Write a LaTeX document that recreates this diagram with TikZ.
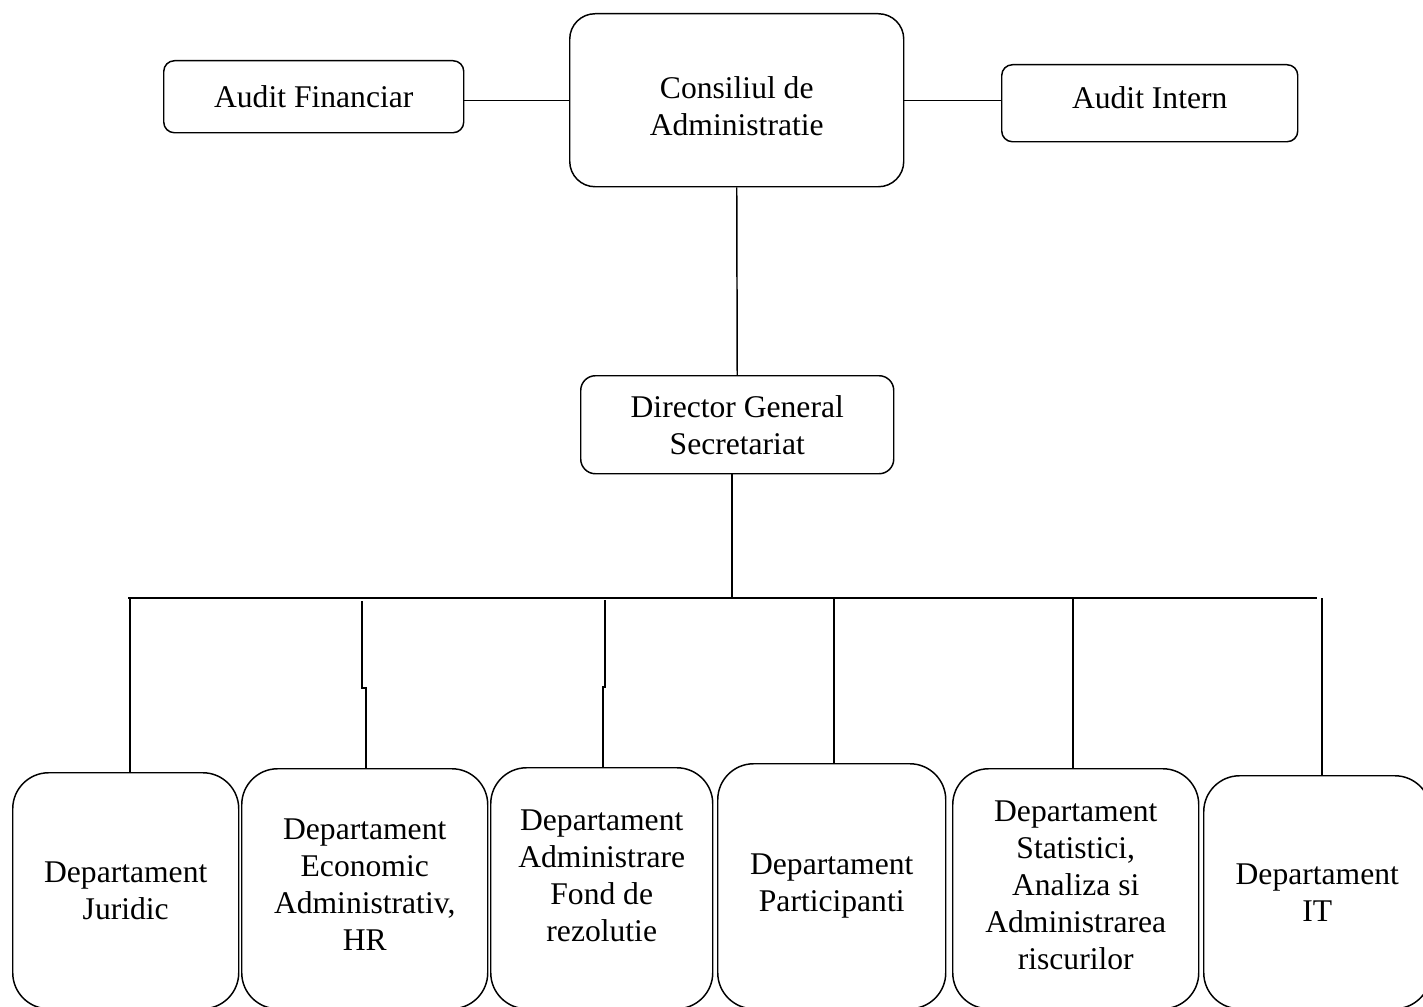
\documentclass[tikz,border=0pt]{standalone}
\usepackage{fontspec}
\setmainfont{Liberation Serif}
\tikzset{
  box/.style={draw, line width=1.1pt, align=center, inner sep=0pt, anchor=north west,
    font=\fontsize{23.7}{27.75}\selectfont},
  smallbox/.style={box, rounded corners=8pt},
  bigbox/.style={box, rounded corners=19pt},
  dept/.style={box, rounded corners=27pt},
  link/.style={line width=1.1pt},
}
\newcommand{\px}{0.75pt}

\begin{document}
\begin{tikzpicture}[x=0.75pt, y=-0.75pt]
  \useasboundingbox (0,0) rectangle (1423,1006);
  \clip (0,0) rectangle (1423,1006);
  % top row
  \node[smallbox, minimum width=300*\px, minimum height=72*\px] (audfin) at (163,60) {Audit Financiar};
  \node[bigbox, minimum width=334*\px, minimum height=173*\px, text height=53pt] (consiliu) at (569,13) {Consiliul de\\Administratie};
  \node[smallbox, minimum width=296*\px, minimum height=77*\px, text depth=9pt] (audint) at (1001,64) {Audit Intern};
  \node[box, rounded corners=11pt, minimum width=313*\px, minimum height=98*\px] (director) at (580,375) {Director General\\Secretariat};
  % departments
  \node[dept, minimum width=226*\px, minimum height=236*\px] (juridic) at (12,772) {Departament\\Juridic};
  \node[dept, minimum width=246*\px, minimum height=240*\px, text depth=6pt] (economic) at (241,768) {Departament\\Economic\\Administrativ,\\HR};
  \node[dept, minimum width=222*\px, minimum height=241*\px, text depth=19pt] (fond) at (490,767) {Departament\\Administrare\\Fond de\\rezolutie};
  \node[dept, minimum width=228*\px, minimum height=245*\px] (particip) at (717,763) {Departament\\Participanti};
  \node[dept, minimum width=246*\px, minimum height=240*\px, text depth=5pt] (statistici) at (952,768) {Departament\\Statistici,\\Analiza si\\Administrarea\\riscurilor};
  \node[dept, minimum width=227*\px, minimum height=233*\px] (it) at (1203,775) {Departament\\IT};
  % links
  \draw[link] (consiliu.west) -- (consiliu.west -| audfin.east);
  \draw[link] (consiliu.east) -- (consiliu.east -| audint.west);
  \draw[link] (consiliu.south) -- (director.north);
  \coordinate (busL) at (128,598);
  \coordinate (busR) at (1317,598);
  \coordinate (hub) at (732,598);
  \draw[link] (busL) -- (busR);
  \draw[link] (hub |- director.south) -- (hub);
  \coordinate (d1) at (130,598);
  \coordinate (d2) at (362,601);
  \coordinate (d3) at (605,600);
  \coordinate (d4) at (834,598);
  \coordinate (d5) at (1073,598);
  \coordinate (d6) at (1322,598);
  \draw[link] (d1) -- (d1 |- juridic.north);
  \draw[link] (d2) -- ++(0,87) -- ++(4,0) coordinate (j2) -- (j2 |- economic.north);
  \draw[link] (d3) -- ++(0,87) -- ++(-2,0) coordinate (j3) -- (j3 |- fond.north);
  \draw[link] (d4) -- (d4 |- particip.north);
  \draw[link] (d5) -- (d5 |- statistici.north);
  \draw[link] (d6) -- (d6 |- it.north);
\end{tikzpicture}
\end{document}
